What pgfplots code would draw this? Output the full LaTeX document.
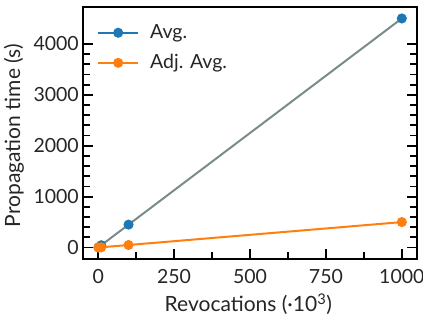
\documentclass[border=0pt]{standalone}
\usepackage{pgfplots}
\pgfplotsset{compat=1.18}
\usepackage{fontspec}
\setmainfont{Lato}
\definecolor{c0}{RGB}{31,119,180}
\definecolor{c1}{RGB}{255,127,14}
\definecolor{cg}{RGB}{122,140,138}
\begin{document}
\fontsize{19.5pt}{23pt}\selectfont
\begin{tikzpicture}
\begin{axis}[
  name=ax,
  scale only axis,
  width=334pt, height=252pt,
  xmin=-50, xmax=1050, ymin=-225, ymax=4725,
  xtick={0,250,500,750,1000},
  ytick={0,1000,2000,3000,4000},
  minor x tick num=1, minor y tick num=4,
  xtick pos=bottom, ytick pos=both,
  tick align=inside,
  major tick length=10pt, minor tick length=7pt,
  every tick/.style={black, line width=1.8pt},
  axis line style={line width=2.4pt},
  /pgf/number format/assume math mode=true,
  /pgf/number format/1000 sep={},
  ticklabel style={font=\fontsize{19.5pt}{23pt}\selectfont, text=black!85},
  xticklabel style={yshift=-3.5pt},
  yticklabel style={xshift=2.5pt},
  label style={font=\fontsize{21pt}{25pt}\selectfont, text=black!85},
  xlabel={Revocations (·10\textsuperscript{3})},
  ylabel={Propagation time (s)},
  xlabel style={at={(axis description cs:0.495,-0.2103)}, anchor=base},
  ylabel style={at={(axis description cs:-0.1886,0.49)}, anchor=base},
  legend style={draw=none, fill=none, inner sep=0pt,
    at={(axis description cs:0.0419,0.944)}, anchor=north west,
    font=\fontsize{19.5pt}{23pt}\selectfont, text=black!85,
    nodes={inner sep=3pt}, row sep=7pt, column sep=8pt},
  legend cell align=left,
]
\addplot[cg, line width=2pt, mark=*, mark size=4pt, mark options={draw=c0, fill=c0},
  legend image code/.code={\draw[c0, line width=2pt] (0,0)--(40pt,0); \fill[c0] (20pt,0) circle (4pt);}]
  coordinates {(1,4.5) (10,45) (100,450) (1000,4500)};
\addlegendentry{Avg.}
\addplot[c1, line width=2pt, mark=*, mark size=4pt, mark options={draw=c1, fill=c1},
  legend image code/.code={\draw[c1, line width=2pt] (0,0)--(40pt,0); \fill[c1] (20pt,0) circle (4pt);}]
  coordinates {(1,0.5) (10,5) (100,50) (1000,500)};
\addlegendentry{Adj. Avg.}
\end{axis}
\pgfresetboundingbox
\path[use as bounding box] ([xshift=-83pt,yshift=-62pt]ax.south west) rectangle ([xshift=6pt,yshift=7pt]ax.north east);
\end{tikzpicture}
\end{document}
